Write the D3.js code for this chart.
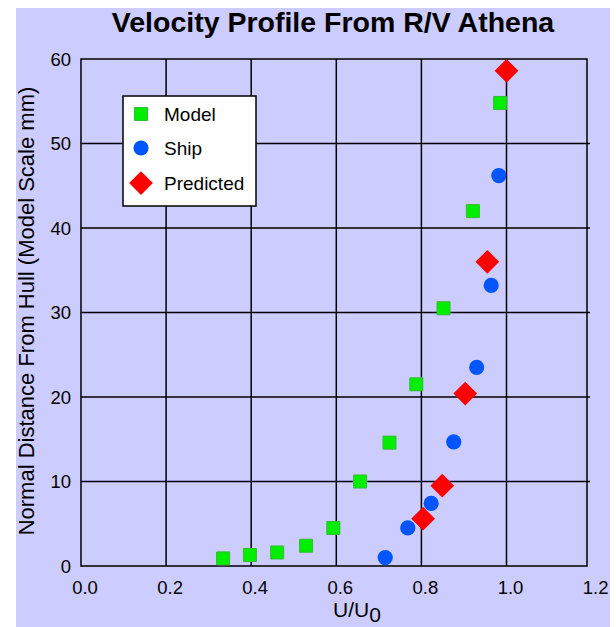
<!DOCTYPE html>
<html>
<head>
<meta charset="utf-8">
<script src="https://cdn.jsdelivr.net/npm/d3@7"></script>
<style>
  body { margin: 0; background: #fff; }
  text { font-family: "Liberation Sans", Arial, Helvetica, sans-serif; fill: #000; }
</style>
</head>
<body>
<div id="chart"></div>
<script>
// data
var xTicks = [0, 0.2, 0.4, 0.6, 0.8, 1.0, 1.2];
var yTicks = [0, 10, 20, 30, 40, 50, 60];

var modelU = [0.334, 0.397, 0.461, 0.529, 0.593, 0.656, 0.725, 0.788, 0.852, 0.921, 0.985];
var modelY = [0.9, 1.3, 1.6, 2.4, 4.5, 10.0, 14.6, 21.5, 30.5, 42.0, 54.8];

var shipU = [0.715, 0.768, 0.823, 0.876, 0.930, 0.964, 0.982];
var shipY = [1.0, 4.5, 7.4, 14.7, 23.5, 33.2, 46.2];

var predU = [0.804, 0.849, 0.903, 0.955, 1.0];
var predY = [5.6, 9.5, 20.4, 36.0, 58.6];

var seriesNames = ["Model", "Ship", "Predicted"];

var svgWidth = 616;
var svgHeight = 627;

var plot = { left: 81, top: 59, right: 587, bottom: 566 };

var svg = d3.select("#chart")
  .append("svg")
  .attr("width", svgWidth)
  .attr("height", svgHeight);

// lavender panel
svg.append("rect")
  .attr("x", 16)
  .attr("y", 8)
  .attr("width", 594)
  .attr("height", svgHeight - 8)
  .attr("fill", "#ccccff");

var xScale = d3.scaleLinear()
  .domain([0, 1.2])
  .range([plot.left, 591.6]);

var yScale = d3.scaleLinear()
  .domain([0, 60])
  .range([plot.bottom, plot.top]);

// grid
svg.append("g")
  .selectAll("line")
  .data(xTicks.slice(1, -1))
  .enter()
  .append("line")
  .attr("x1", d => xScale(d))
  .attr("x2", d => xScale(d))
  .attr("y1", plot.top)
  .attr("y2", plot.bottom)
  .attr("stroke", "#000")
  .attr("stroke-width", 1.5);

svg.append("g")
  .selectAll("line")
  .data(yTicks.slice(1, -1))
  .enter()
  .append("line")
  .attr("x1", plot.left)
  .attr("x2", plot.right + 3)
  .attr("y1", d => yScale(d))
  .attr("y2", d => yScale(d))
  .attr("stroke", "#000")
  .attr("stroke-width", 1.5);

// frame
svg.append("rect")
  .attr("x", plot.left)
  .attr("y", plot.top)
  .attr("width", plot.right - plot.left)
  .attr("height", plot.bottom - plot.top)
  .attr("fill", "none")
  .attr("stroke", "#000")
  .attr("stroke-width", 1.5);

// tick labels
svg.append("g")
  .selectAll("text")
  .data(xTicks)
  .enter()
  .append("text")
  .attr("x", d => xScale(d) + 4)
  .attr("y", 594)
  .attr("text-anchor", "middle")
  .attr("font-size", 18.5)
  .text(d => d.toFixed(1));

svg.append("g")
  .selectAll("text")
  .data(yTicks)
  .enter()
  .append("text")
  .attr("x", 71)
  .attr("y", d => yScale(d) + 6.5)
  .attr("text-anchor", "end")
  .attr("font-size", 18.5)
  .text(d => d);

// title
svg.append("text")
  .attr("x", 333)
  .attr("y", 32)
  .attr("text-anchor", "middle")
  .attr("font-size", 28.5)
  .attr("font-weight", "bold")
  .text("Velocity Profile From R/V Athena");

// axis titles
var xTitle = svg.append("text")
  .attr("x", 333)
  .attr("y", 617)
  .attr("font-size", 21);
xTitle.append("tspan").text("U/U");
xTitle.append("tspan").attr("dy", 5).text("0");

svg.append("text")
  .attr("transform", "translate(34, 311) rotate(-90)")
  .attr("text-anchor", "middle")
  .attr("font-size", 22)
  .text("Normal Distance From Hull (Model Scale mm)");

// markers
var squareSym = d3.symbol().type(d3.symbolSquare).size(169);
var circleSym = d3.symbol().type(d3.symbolCircle).size(Math.PI * 7.6 * 7.6);
var diamondSym = d3.symbol().type(d3.symbolSquare).size(282);

function drawModel(g, x, y) {
  g.append("path")
    .attr("d", squareSym())
    .attr("transform", `translate(${x},${y})`)
    .attr("fill", "#00ee00")
    .attr("stroke", "#33bb33")
    .attr("stroke-width", 1);
}
function drawShip(g, x, y) {
  g.append("path")
    .attr("d", circleSym())
    .attr("transform", `translate(${x},${y})`)
    .attr("fill", "#0055ff");
}
function drawPred(g, x, y) {
  g.append("path")
    .attr("d", diamondSym())
    .attr("transform", `translate(${x},${y}) rotate(45)`)
    .attr("fill", "#ff0000");
}

var marks = svg.append("g");
modelU.forEach((u, i) => drawModel(marks, xScale(u), yScale(modelY[i])));
shipU.forEach((u, i) => drawShip(marks, xScale(u), yScale(shipY[i])));
predU.forEach((u, i) => drawPred(marks, xScale(u), yScale(predY[i])));

// legend
var legend = svg.append("g");
legend.append("rect")
  .attr("x", 123)
  .attr("y", 96)
  .attr("width", 133)
  .attr("height", 110)
  .attr("fill", "#fff")
  .attr("stroke", "#000")
  .attr("stroke-width", 1.5);

var legendDraw = [drawModel, drawShip, drawPred];
var legendY = [114, 148, 183];
seriesNames.forEach(function(name, i) {
  legendDraw[i](legend, 141, legendY[i]);
  legend.append("text")
    .attr("x", 164)
    .attr("y", legendY[i] + 6.5)
    .attr("font-size", 19)
    .text(name);
});
</script>
</body>
</html>
